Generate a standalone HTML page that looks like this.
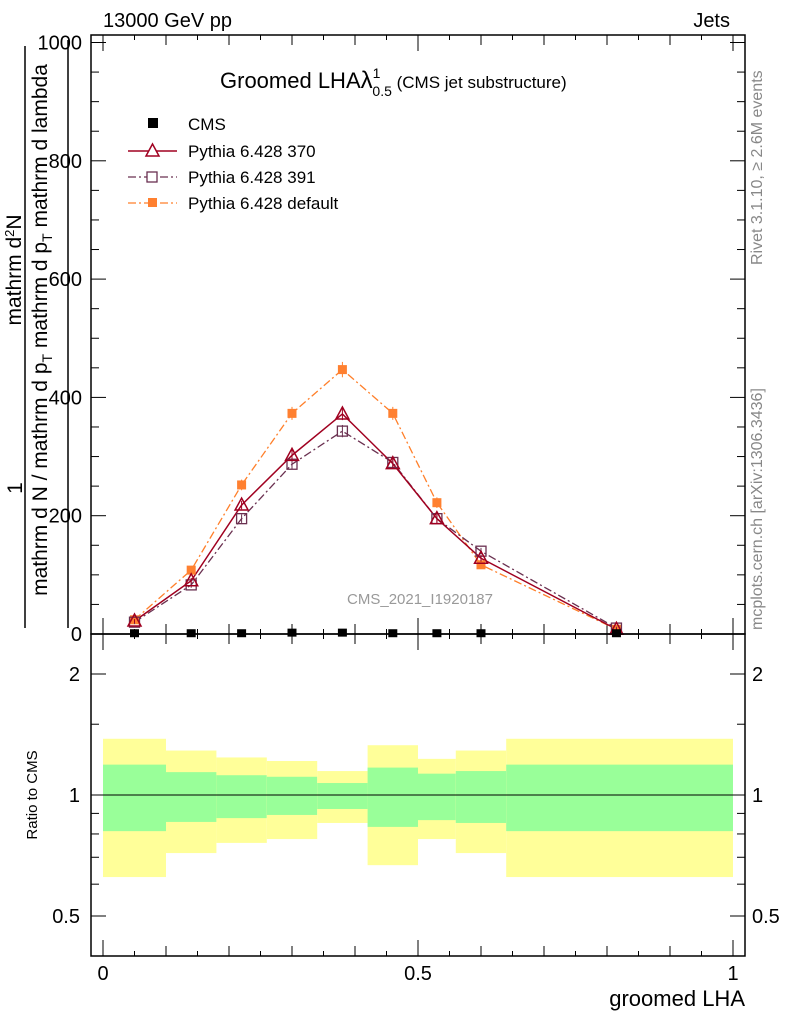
<!DOCTYPE html>
<html><head><meta charset="utf-8"><style>
body{margin:0;background:#fff;}
svg{display:block;font-family:"Liberation Sans",sans-serif;}
</style></head><body>
<svg id="chart" width="786" height="1024" viewBox="0 0 786 1024">
<text x="103" y="27" font-size="20">13000 GeV pp</text>
<text x="730" y="27" font-size="20" text-anchor="end">Jets</text>
<g id="mainP"></g>
<g id="ratioP"></g>
<text x="220" y="88" font-size="22">Groomed LHA<tspan font-size="24">λ</tspan><tspan font-size="14" dy="-10">1</tspan><tspan font-size="14" dx="-8" dy="18">0.5</tspan><tspan font-size="17" dy="-8"> (CMS jet substructure)</tspan></text>
<g>
<rect x="148" y="118" width="10" height="10" fill="#000"/>
<text x="188" y="130" font-size="17">CMS</text>
<line x1="128" y1="151" x2="177" y2="151" stroke="#a00020" stroke-width="1.5"/>
<polygon points="152.5,144 146,156 159,156" fill="#fff" stroke="#a00020" stroke-width="1.5"/>
<text x="188" y="157" font-size="17">Pythia 6.428 370</text>
<line x1="128" y1="177" x2="177" y2="177" stroke="#6a3050" stroke-width="1.3" stroke-dasharray="8,3,2,3"/>
<rect x="147" y="172" width="10" height="10" fill="#fff" stroke="#6a3050" stroke-width="1.3"/>
<text x="188" y="183" font-size="17">Pythia 6.428 391</text>
<line x1="128" y1="203" x2="177" y2="203" stroke="#ff7f2a" stroke-width="1.3" stroke-dasharray="8,3,2,3"/>
<rect x="148" y="198" width="9" height="9" fill="#ff8030"/>
<text x="188" y="209" font-size="17">Pythia 6.428 default</text>
</g>
<text x="420" y="604" font-size="15" fill="#999" text-anchor="middle">CMS_2021_I1920187</text>
<text transform="translate(762,265) rotate(-90)" font-size="16" fill="#888">Rivet 3.1.10, ≥ 2.6M events</text>
<text transform="translate(762,630) rotate(-90)" font-size="16" fill="#888">mcplots.cern.ch [arXiv:1306.3436]</text>
<g font-size="21">
<text transform="translate(22,488) rotate(-90)" text-anchor="middle">1</text>
<line x1="25" y1="628" x2="25" y2="46" stroke="#000" stroke-width="1.5"/>
<text transform="translate(21,270) rotate(-90)" text-anchor="middle">mathrm d<tspan font-size="13" dy="-7">2</tspan><tspan dy="7">N</tspan></text>
<line x1="68" y1="628" x2="68" y2="40" stroke="#000" stroke-width="1.5"/>
<text transform="translate(47,330) rotate(-90)" text-anchor="middle">mathrm d N / mathrm d p<tspan font-size="14" dy="5">T</tspan><tspan dy="-5"> mathrm d p</tspan><tspan font-size="14" dy="5">T</tspan><tspan dy="-5"> mathrm d lambda</tspan></text>
</g>
<text transform="translate(37,795) rotate(-90)" font-size="15" text-anchor="middle">Ratio to CMS</text>
<text x="745" y="1006" font-size="22" text-anchor="end">groomed LHA</text>
</svg>
<script>
const xCenters=[0.05,0.14,0.22,0.30,0.38,0.46,0.53,0.60,0.815];
const binEdges=[0,0.1,0.18,0.26,0.34,0.42,0.5,0.56,0.64,1.0];
const cmsVals=[3,3,3,4,4,3,3,3,3];
const p370=[22,90,218,302,372,288,195,128,8];
const p391=[20,83,195,287,343,290,195,140,10];
const pDef=[24,108,252,373,447,373,222,117,8];
const errDef=[4,6,9,11,13,11,9,7,3];
const yellowHi=[1.38,1.29,1.24,1.215,1.147,1.33,1.23,1.29,1.38];
const yellowLo=[0.625,0.717,0.76,0.777,0.852,0.669,0.777,0.717,0.625];
const greenHi=[1.19,1.14,1.12,1.11,1.071,1.17,1.13,1.147,1.19];
const greenLo=[0.813,0.857,0.876,0.892,0.923,0.833,0.866,0.852,0.813];
const yTicks=[0,200,400,600,800,1000];
const rTicks=[0.5,1,2];
const NS="http://www.w3.org/2000/svg";
const X=v=>103+v*630;
const Y=v=>634-v*0.5915;
const R=v=>795-121*Math.log2(v);
function mk(p,t,a){const e=document.createElementNS(NS,t);for(const k in a)e.setAttribute(k,a[k]);p.appendChild(e);return e;}
const M=document.getElementById('mainP'),RP=document.getElementById('ratioP');
for(let i=0;i<binEdges.length-1;i++){
 const y=mk(RP,'rect',{x:X(binEdges[i]),width:X(binEdges[i+1])-X(binEdges[i]),y:R(yellowHi[i]),height:R(yellowLo[i])-R(yellowHi[i]),fill:'#ffff99'});
 
 
 const g=mk(RP,'rect',{x:X(binEdges[i]),width:X(binEdges[i+1])-X(binEdges[i]),y:R(greenHi[i]),height:R(greenLo[i])-R(greenHi[i]),fill:'#99ff99'});
 
 
}
mk(RP,'line',{x1:X(0),x2:X(1),y1:R(1),y2:R(1),stroke:'#000','stroke-width':1});
mk(M,'rect',{x:91,y:35,width:654,height:599,fill:'none',stroke:'#000','stroke-width':1.5});
mk(RP,'rect',{x:91,y:634,width:654,height:322,fill:'none',stroke:'#000','stroke-width':1.5});
for(let v=0;v<=1000;v+=50){const L=v%200===0?15:8;
 mk(M,'line',{x1:91,x2:91+L,y1:Y(v),y2:Y(v),stroke:'#000'});mk(M,'line',{x1:745,x2:745-L,y1:Y(v),y2:Y(v),stroke:'#000'});}
yTicks.forEach(v=>{const t=mk(M,'text',{x:82,y:Y(v)+7,'font-size':20,'text-anchor':'end'});t.textContent=v;
 
 });
for(let k=0;k<=20;k++){const v=k*0.05;const L=k%10===0?16:(k%2===0?10:5);
 [[634,-1],[35,1],[956,-1],[634,1]].forEach(([b,d])=>mk(M,'line',{x1:X(v),x2:X(v),y1:b,y2:b+d*L,stroke:'#000'}));}
[0,0.5,1].forEach(v=>{const t=mk(RP,'text',{x:X(v),y:980,'font-size':20,'text-anchor':'middle'});t.textContent=v;
 
 });
[0.5,0.6,0.7,0.8,0.9,1,1.5,2].forEach(v=>{const L=rTicks.includes(v)?15:8;
 mk(RP,'line',{x1:91,x2:91+L,y1:R(v),y2:R(v),stroke:'#000'});mk(RP,'line',{x1:745,x2:745-L,y1:R(v),y2:R(v),stroke:'#000'});});
rTicks.forEach(v=>{[[80,'end'],[752,'start']].forEach(([x,a])=>{const t=mk(RP,'text',{x:x,y:R(v)+7,'font-size':20,'text-anchor':a});t.textContent=v;
 
 });});
function line(vals,col,dash,w,name){const pts=vals.map((v,i)=>X(xCenters[i])+','+Y(v)).join(' ');
 const p=mk(M,'polyline',{points:pts,fill:'none',stroke:col,'stroke-width':w,'stroke-dasharray':dash});
 
 }
line(pDef,'#ff7f2a','8,3,2,3',1.3,'line-default');
line(p391,'#6a3050','8,3,2,3',1.3,'line-391');
line(p370,'#a00020','',1.5,'line-370');
pDef.forEach((v,i)=>{const x=X(xCenters[i]);
 mk(M,'line',{x1:x,x2:x,y1:Y(v+errDef[i]),y2:Y(v-errDef[i]),stroke:'#ff7f2a'});
 const r=mk(M,'rect',{x:x-4.5,y:Y(v)-4.5,width:9,height:9,fill:'#ff8030'});
 
 });
p391.forEach((v,i)=>{const x=X(xCenters[i]);
 mk(M,'line',{x1:x,x2:x,y1:Y(v+errDef[i]*0.8),y2:Y(v-errDef[i]*0.8),stroke:'#6a3050'});
 const r=mk(M,'rect',{x:x-5,y:Y(v)-5,width:10,height:10,fill:'none',stroke:'#6a3050','stroke-width':1.3});
 
 });
p370.forEach((v,i)=>{const x=X(xCenters[i]),y=Y(v);
 mk(M,'line',{x1:x,x2:x,y1:Y(v+errDef[i]*0.8),y2:Y(v-errDef[i]*0.8),stroke:'#a00020'});
 const r=mk(M,'polygon',{points:`${x},${y-7} ${x-6.5},${y+5} ${x+6.5},${y+5}`,fill:'none',stroke:'#a00020','stroke-width':1.5});
 
 });
cmsVals.forEach((v,i)=>{const x=X(xCenters[i]);
 const r=mk(M,'rect',{x:x-4.5,y:Y(v)-3,width:9,height:8,fill:'#000'});
 
 });
</script>
</body></html>
